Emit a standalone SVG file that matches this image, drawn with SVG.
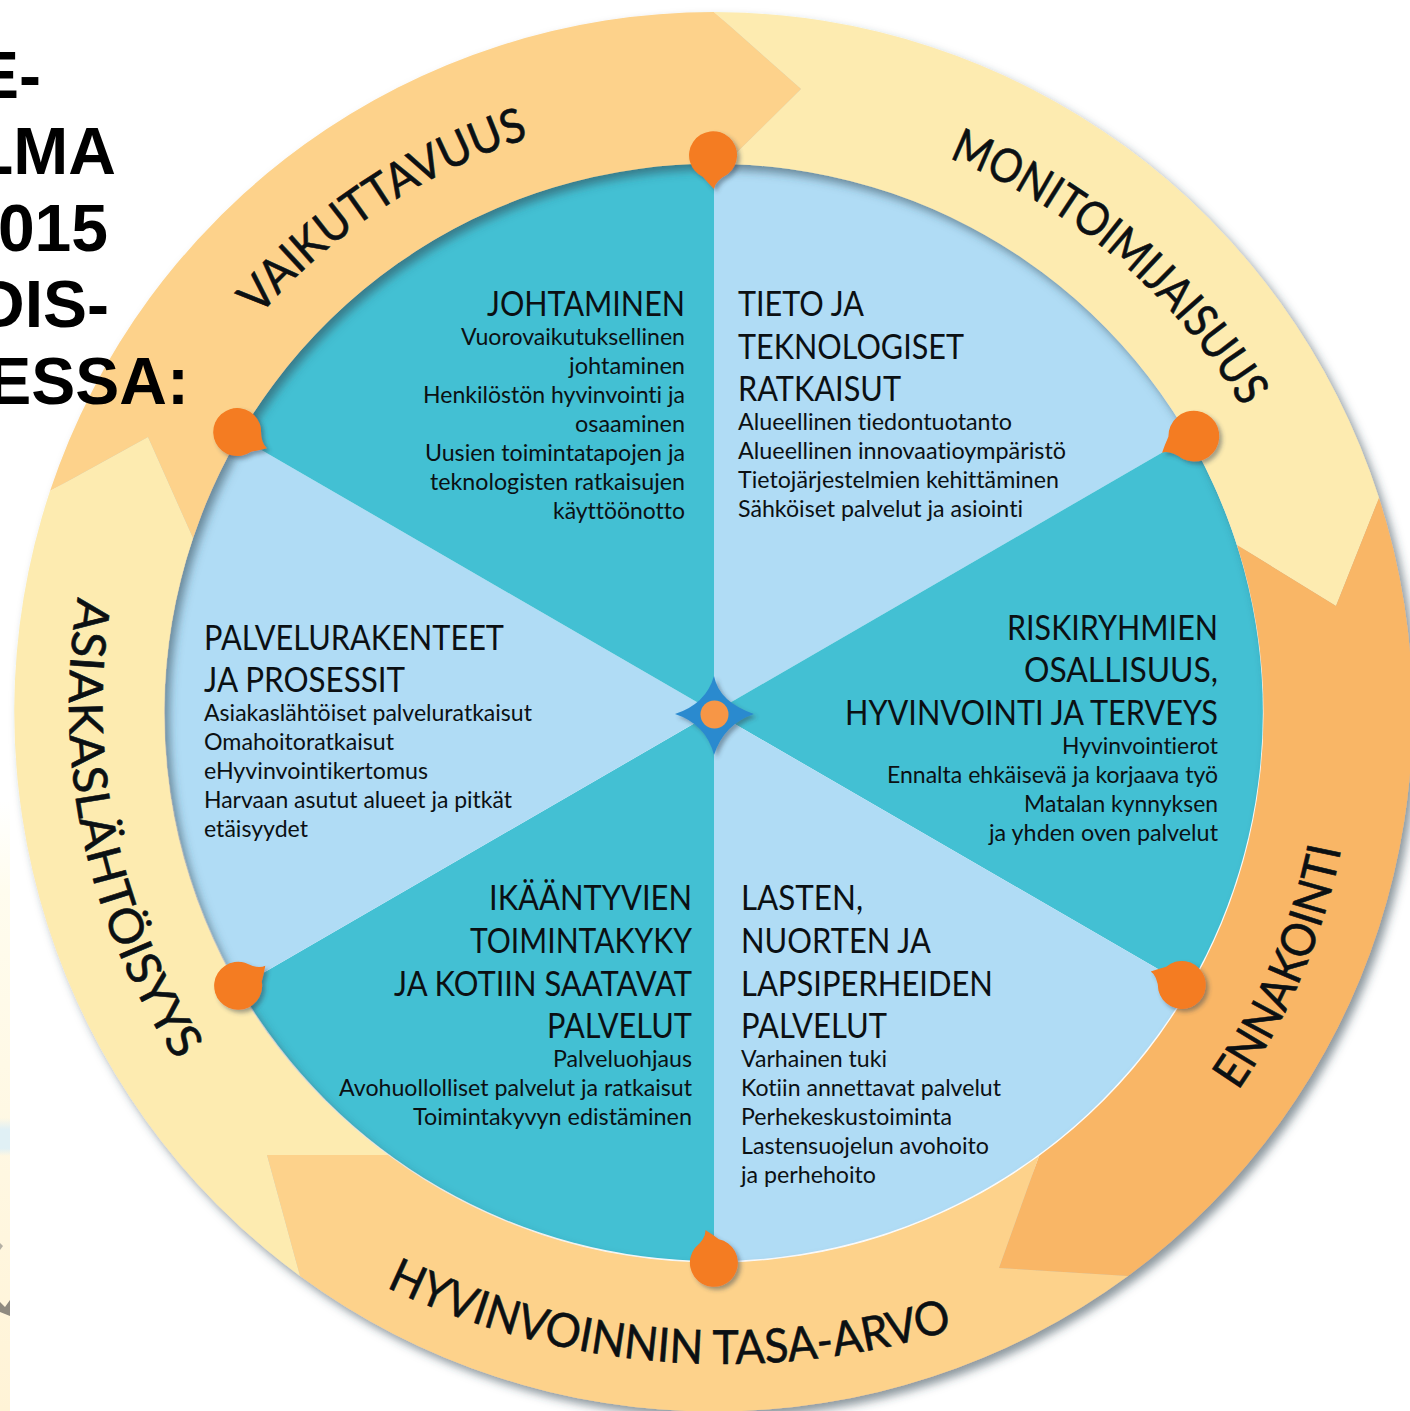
<svg xmlns="http://www.w3.org/2000/svg" width="1410" height="1411" viewBox="0 0 1410 1411">
<defs>
<style>
text{font-family:Lato,"Open Sans",sans-serif;fill:#0b1013;font-variant-ligatures:none}
.h{font-size:34px}
.b{font-size:24px}
.r{font-size:47px;stroke:#0b1013;stroke-width:.6px}
.t{font-family:"Liberation Sans",Arial,sans-serif;font-weight:700;font-size:66px;fill:#000;text-anchor:end}
.pin{fill:#F47B20}
</style>
<linearGradient id="strip" x1="0" y1="0" x2="0" y2="1"><stop offset="0" stop-color="#fff"/><stop offset=".15" stop-color="#fffcee"/><stop offset="1" stop-color="#fff3d6"/></linearGradient>
<linearGradient id="patch" x1="0" y1="0" x2="0" y2="1"><stop offset="0" stop-color="#e0f0f5" stop-opacity="0"/><stop offset=".3" stop-color="#e0f0f5"/><stop offset=".8" stop-color="#e0f0f5"/><stop offset="1" stop-color="#e0f0f5" stop-opacity="0"/></linearGradient>
<filter id="ringShadow" x="-5%" y="-5%" width="110%" height="110%"><feDropShadow dx="5" dy="6" stdDeviation="5" flood-color="#33424f" flood-opacity=".55"/></filter>
<filter id="pinShadow" x="-30%" y="-30%" width="160%" height="160%"><feDropShadow dx="3" dy="3" stdDeviation="2" flood-color="#33424f" flood-opacity=".45"/></filter>
<path id="pinShape" d="M15,19A24,24 0 1 0 -10,22Q-5,28 1,34Q2,26 15,19Z"/>
<path id="pVaik" d="M254,322A603,603 0 0 1 609,118" fill="none"/>
<path id="pMoni" d="M949,158A602,602 0 0 1 1295,520" fill="none"/>
<path id="pEnna" d="M1238,1091A640,640 0 0 0 1352,768" fill="none"/>
<path id="pHyvi" d="M386,1287A782,782 0 0 0 1010,1310" fill="none"/>
<path id="pAsia" d="M78,597A642,642 0 0 0 230,1130" fill="none"/>
</defs>
<rect width="1410" height="1411" fill="#fff"/>
<g id="left-strip">
<rect x="0" y="800" width="10" height="611" fill="url(#strip)"/>
<rect x="0" y="1118" width="10" height="38" fill="url(#patch)"/>
<path d="M0,1243L3,1246L0,1250Z" fill="#b5b0a4"/>
<path d="M0,1302L5,1307L10,1300L10,1316L0,1312Z" fill="#8f8a80"/>
</g>
<g id="disc">
<path d="M714,712L714,163A549,549 0 0 1 1189,437Z" fill="#B0DCF5"/>
<path d="M714,712L1189,437A549,549 0 0 1 1189,987Z" fill="#43C0D3"/>
<path d="M714,712L1189,987A549,549 0 0 1 714,1261Z" fill="#B0DCF5"/>
<path d="M714,712L714,1261A549,549 0 0 1 239,987Z" fill="#43C0D3"/>
<path d="M714,712L239,987A549,549 0 0 1 239,437Z" fill="#B0DCF5"/>
<path d="M714,712L239,437A549,549 0 0 1 714,163Z" fill="#43C0D3"/>
</g>
<g id="ring" filter="url(#ringShadow)">
<path id="arrow-vaikuttavuus" d="M50,491A700,700 0 0 1 714,12L801,89L725,164A548,548 0 0 0 193,538L148,437Z" fill="#FDD28B"/>
<path id="arrow-monitoimijaisuus" d="M714,12A700,700 0 0 1 1379,498L1336,606L1237,545A548,548 0 0 0 725,164L801,89Z" fill="#FDEBB0"/>
<path id="arrow-ennakointi" d="M1379,498A700,700 0 0 1 1128,1276L999,1268L1039,1156A548,548 0 0 0 1237,545L1336,606Z" fill="#F9B666"/>
<path id="arrow-hyvinvoinnin" d="M1128,1276A700,700 0 0 1 300,1276L267,1155L388,1155A548,548 0 0 0 1039,1156L999,1268Z" fill="#FDD28B"/>
<path id="arrow-asiakas" d="M300,1276A700,700 0 0 1 50,491L148,437L193,538A548,548 0 0 0 388,1155L267,1155Z" fill="#FDEBB0"/>
</g>
<g id="ring-labels">
<text class="r"><textPath href="#pVaik" startOffset="8" textLength="327" lengthAdjust="spacingAndGlyphs">VAIKUTTAVUUS</textPath></text>
<text class="r"><textPath href="#pMoni" textLength="392" lengthAdjust="spacingAndGlyphs">MONITOIMIJAISUUS</textPath></text>
<text class="r"><textPath href="#pEnna" textLength="265" lengthAdjust="spacingAndGlyphs">ENNAKOINTI</textPath></text>
<text class="r"><textPath href="#pHyvi" textLength="582" lengthAdjust="spacingAndGlyphs">HYVINVOINNIN TASA-ARVO</textPath></text>
<text class="r"><textPath href="#pAsia" textLength="486" lengthAdjust="spacingAndGlyphs">ASIAKASLÄHTÖISYYS</textPath></text>
</g>
<g id="pins">
<g id="pin-top" filter="url(#pinShadow)"><use href="#pinShape" class="pin" transform="translate(713,155)"/></g>
<g id="pin-upper-right" filter="url(#pinShadow)"><use href="#pinShape" class="pin" transform="translate(1194,436) rotate(64) scale(1.06)"/></g>
<g id="pin-lower-right" filter="url(#pinShadow)"><use href="#pinShape" class="pin" transform="translate(1182,985) rotate(115)"/></g>
<g id="pin-bottom" filter="url(#pinShadow)"><use href="#pinShape" class="pin" transform="translate(714,1263) rotate(167)"/></g>
<g id="pin-lower-left" filter="url(#pinShadow)"><use href="#pinShape" class="pin" transform="translate(238,986) rotate(-125)"/></g>
<g id="pin-upper-left" filter="url(#pinShadow)"><use href="#pinShape" class="pin" transform="translate(237,432) rotate(-60)"/></g>
</g>
<g id="hub">
<path filter="url(#pinShadow)" d="M714,676Q719,702 754,714Q724,724 714,755Q706,724 675,714Q706,704 714,676Z" fill="#2B8ACF"/>
<circle cx="714.500" cy="714.500" r="14" fill="#F79646"/>
</g>
<g id="node-johtaminen">
<text class="h" x="487" y="316" textLength="198" lengthAdjust="spacingAndGlyphs">JOHTAMINEN</text>
<text class="b" x="461" y="345" textLength="224" lengthAdjust="spacingAndGlyphs">Vuorovaikutuksellinen</text>
<text class="b" x="569" y="374" textLength="116" lengthAdjust="spacingAndGlyphs">johtaminen</text>
<text class="b" x="423" y="403" textLength="262" lengthAdjust="spacingAndGlyphs">Henkilöstön hyvinvointi ja</text>
<text class="b" x="575" y="432" textLength="110" lengthAdjust="spacingAndGlyphs">osaaminen</text>
<text class="b" x="425" y="461" textLength="260" lengthAdjust="spacingAndGlyphs">Uusien toimintatapojen ja</text>
<text class="b" x="430" y="490" textLength="255" lengthAdjust="spacingAndGlyphs">teknologisten ratkaisujen</text>
<text class="b" x="553" y="519" textLength="132" lengthAdjust="spacingAndGlyphs">käyttöönotto</text>
</g>
<g id="node-tieto">
<text class="h" x="738" y="316" textLength="126" lengthAdjust="spacingAndGlyphs">TIETO JA</text>
<text class="h" x="738" y="359" textLength="226" lengthAdjust="spacingAndGlyphs">TEKNOLOGISET</text>
<text class="h" x="738" y="401" textLength="163" lengthAdjust="spacingAndGlyphs">RATKAISUT</text>
<text class="b" x="738" y="430" textLength="274" lengthAdjust="spacingAndGlyphs">Alueellinen tiedontuotanto</text>
<text class="b" x="738" y="459" textLength="328" lengthAdjust="spacingAndGlyphs">Alueellinen innovaatioympäristö</text>
<text class="b" x="738" y="488" textLength="321" lengthAdjust="spacingAndGlyphs">Tietojärjestelmien kehittäminen</text>
<text class="b" x="738" y="517" textLength="285" lengthAdjust="spacingAndGlyphs">Sähköiset palvelut ja asiointi</text>
</g>
<g id="node-palvelurakenteet">
<text class="h" x="204" y="650" textLength="300" lengthAdjust="spacingAndGlyphs">PALVELURAKENTEET</text>
<text class="h" x="204" y="692" textLength="201" lengthAdjust="spacingAndGlyphs">JA PROSESSIT</text>
<text class="b" x="204" y="721" textLength="328" lengthAdjust="spacingAndGlyphs">Asiakaslähtöiset palveluratkaisut</text>
<text class="b" x="204" y="750" textLength="190" lengthAdjust="spacingAndGlyphs">Omahoitoratkaisut</text>
<text class="b" x="204" y="779" textLength="224" lengthAdjust="spacingAndGlyphs">eHyvinvointikertomus</text>
<text class="b" x="204" y="808" textLength="308" lengthAdjust="spacingAndGlyphs">Harvaan asutut alueet ja pitkät</text>
<text class="b" x="204" y="837" textLength="104" lengthAdjust="spacingAndGlyphs">etäisyydet</text>
</g>
<g id="node-riskiryhmien">
<text class="h" x="1007" y="640" textLength="211" lengthAdjust="spacingAndGlyphs">RISKIRYHMIEN</text>
<text class="h" x="1024" y="682" textLength="194" lengthAdjust="spacingAndGlyphs">OSALLISUUS,</text>
<text class="h" x="845" y="725" textLength="373" lengthAdjust="spacingAndGlyphs">HYVINVOINTI JA TERVEYS</text>
<text class="b" x="1062" y="754" textLength="156" lengthAdjust="spacingAndGlyphs">Hyvinvointierot</text>
<text class="b" x="887" y="783" textLength="331" lengthAdjust="spacingAndGlyphs">Ennalta ehkäisevä ja korjaava työ</text>
<text class="b" x="1024" y="812" textLength="194" lengthAdjust="spacingAndGlyphs">Matalan kynnyksen</text>
<text class="b" x="989" y="841" textLength="229" lengthAdjust="spacingAndGlyphs">ja yhden oven palvelut</text>
</g>
<g id="node-ikaantyvien">
<text class="h" x="489" y="910" textLength="203" lengthAdjust="spacingAndGlyphs">IKÄÄNTYVIEN</text>
<text class="h" x="470" y="953" textLength="222" lengthAdjust="spacingAndGlyphs">TOIMINTAKYKY</text>
<text class="h" x="394" y="996" textLength="298" lengthAdjust="spacingAndGlyphs">JA KOTIIN SAATAVAT</text>
<text class="h" x="547" y="1038" textLength="145" lengthAdjust="spacingAndGlyphs">PALVELUT</text>
<text class="b" x="553" y="1067" textLength="139" lengthAdjust="spacingAndGlyphs">Palveluohjaus</text>
<text class="b" x="339" y="1096" textLength="353" lengthAdjust="spacingAndGlyphs">Avohuollolliset palvelut ja ratkaisut</text>
<text class="b" x="413" y="1125" textLength="279" lengthAdjust="spacingAndGlyphs">Toimintakyvyn edistäminen</text>
</g>
<g id="node-lasten">
<text class="h" x="741" y="910" textLength="122" lengthAdjust="spacingAndGlyphs">LASTEN,</text>
<text class="h" x="741" y="953" textLength="190" lengthAdjust="spacingAndGlyphs">NUORTEN JA</text>
<text class="h" x="741" y="996" textLength="252" lengthAdjust="spacingAndGlyphs">LAPSIPERHEIDEN</text>
<text class="h" x="741" y="1038" textLength="146" lengthAdjust="spacingAndGlyphs">PALVELUT</text>
<text class="b" x="741" y="1067" textLength="146" lengthAdjust="spacingAndGlyphs">Varhainen tuki</text>
<text class="b" x="741" y="1096" textLength="260" lengthAdjust="spacingAndGlyphs">Kotiin annettavat palvelut</text>
<text class="b" x="741" y="1125" textLength="211" lengthAdjust="spacingAndGlyphs">Perhekeskustoiminta</text>
<text class="b" x="741" y="1154" textLength="248" lengthAdjust="spacingAndGlyphs">Lastensuojelun avohoito</text>
<text class="b" x="741" y="1183" textLength="135" lengthAdjust="spacingAndGlyphs">ja perhehoito</text>
</g>
<g id="title">
<text class="t" x="41" y="98">E-</text>
<text class="t" x="116" y="174">LMA</text>
<text class="t" x="108" y="251">015</text>
<text class="t" x="109" y="327">DIS-</text>
<text class="t" x="189" y="404">ESSA:</text>
</g>
</svg>
